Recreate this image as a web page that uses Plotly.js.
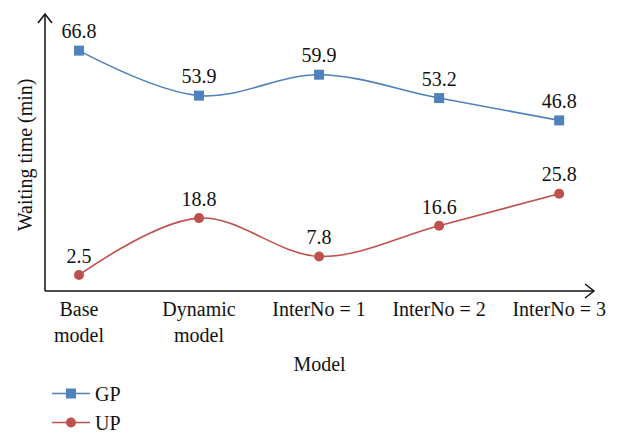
<!DOCTYPE html>
<html>
<head>
<meta charset="utf-8">
<script src="https://cdn.plot.ly/plotly-3.0.1.min.js"></script>
<style>html,body{margin:0;padding:0;background:#fff;}#chart{width:626px;height:440px;}</style>
</head>
<body>
<div id="chart"></div>
<script>
var categories = ["Base<br>model", "Dynamic<br>model", "InterNo = 1", "InterNo = 2", "InterNo = 3"];
var gpValues = [66.8, 53.9, 59.9, 53.2, 46.8];
var upValues = [2.5, 18.8, 7.8, 16.6, 25.8];
var seriesNames = ["GP", "UP"];
var xTitle = "Model";
var yTitle = "Waiting time (min)";

var W = 626, H = 440;
var m = {l: 45, r: 32, t: 14, b: 149, autoexpand: false};
var pw = W - m.l - m.r, ph = H - m.t - m.b;
var fontFam = "Liberation Serif, Times New Roman, serif";
var FS = 20;

function labels(v){ return v.map(function(x){ return x.toFixed(1); }); }

var traces = [
  {x: categories, y: gpValues, name: seriesNames[0], type: 'scatter', mode: 'lines+markers+text',
   text: labels(gpValues), textposition: 'top center', textfont: {family: fontFam, size: FS, color: '#111'},
   cliponaxis: false,
   line: {color: '#4F81BD', width: 1.6, shape: 'spline', smoothing: 1},
   marker: {symbol: 'square', size: 10, color: '#4F81BD'}},
  {x: categories, y: upValues, name: seriesNames[1], type: 'scatter', mode: 'lines+markers+text',
   text: labels(upValues), textposition: 'top center', textfont: {family: fontFam, size: FS, color: '#111'},
   cliponaxis: false,
   line: {color: '#C0504D', width: 1.6, shape: 'spline', smoothing: 1},
   marker: {symbol: 'circle', size: 10, color: '#C0504D'}}
];

var ax = 7, al = 9;
var layout = {
  width: W, height: H, margin: m,
  paper_bgcolor: '#fff', plot_bgcolor: '#fff',
  font: {family: fontFam, size: FS, color: '#111'},
  xaxis: {type: 'category', range: [-0.283, 4.29], showgrid: false, zeroline: false, showline: false,
          automargin: false, ticks: '', ticklabelstandoff: 4,
          tickfont: {family: fontFam, size: FS, color: '#111'},
          title: {text: xTitle, font: {family: fontFam, size: FS, color: '#111'}, standoff: 11}},
  yaxis: {range: [-2.1, 77.3], showgrid: false, zeroline: false, showline: false, showticklabels: false, ticks: '',
          automargin: false},
  annotations: [
    {text: yTitle, xref: 'paper', yref: 'paper', x: -20/pw, y: 0.49, xanchor: 'center', yanchor: 'middle',
     textangle: -90, showarrow: false, font: {family: fontFam, size: FS, color: '#111'}}
  ],
  showlegend: true,
  legend: {xref: 'container', yref: 'container', x: 0.075, y: 0.15, xanchor: 'left', yanchor: 'top',
           itemwidth: 38,
           font: {family: fontFam, size: FS, color: '#111'}, bgcolor: 'rgba(0,0,0,0)', tracegroupgap: 0},
  shapes: [
    {type: 'line', xref: 'paper', yref: 'paper', x0: 0, y0: 0, x1: 0, y1: 1, line: {color: '#111', width: 1.5}},
    {type: 'line', xref: 'paper', yref: 'paper', x0: 0, y0: 0, x1: 1, y1: 0, line: {color: '#111', width: 1.5}},
    {type: 'path', xref: 'paper', yref: 'paper',
     path: 'M ' + (-ax/pw) + ' ' + (1 - al/ph) + ' L 0 1 L ' + (ax/pw) + ' ' + (1 - al/ph),
     line: {color: '#111', width: 1.5}},
    {type: 'path', xref: 'paper', yref: 'paper',
     path: 'M ' + (1 - al/pw) + ' ' + (ax/ph) + ' L 1 0 L ' + (1 - al/pw) + ' ' + (-ax/ph),
     line: {color: '#111', width: 1.5}}
  ]
};

Plotly.newPlot('chart', traces, layout, {displayModeBar: false, staticPlot: true});
</script>
</body>
</html>
